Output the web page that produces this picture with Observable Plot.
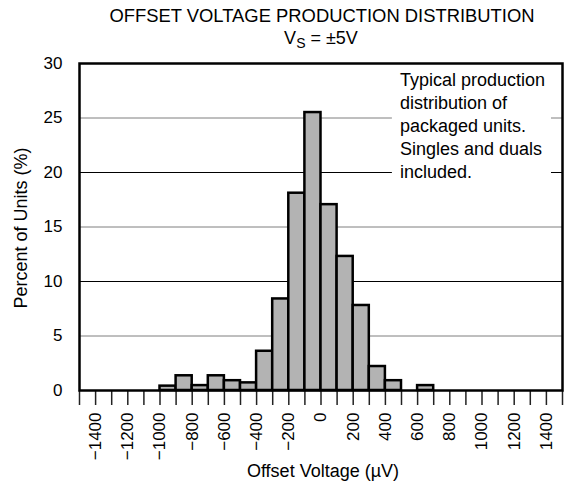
<!DOCTYPE html>
<html>
<head>
<meta charset="utf-8">
<script src="https://cdn.jsdelivr.net/npm/d3@7"></script>
<script src="https://cdn.jsdelivr.net/npm/@observablehq/plot@0.6"></script>
<style>
  body { margin: 0; background: #fff; font-family: "Liberation Sans", Arial, sans-serif; color: #000; }
  #header { position: relative; width: 569px; height: 55px; }
  #title { position: absolute; left: 322px; top: 7px; transform: translateX(-50%); white-space: nowrap; font-size: 18.4px; line-height: 18px; }
  #subtitle { position: absolute; left: 321px; top: 29px; transform: translateX(-50%); white-space: nowrap; font-size: 18px; line-height: 18px; }
  #subtitle .sub { font-size: 14px; position: relative; top: 4px; }
  svg { display: block; }
</style>
</head>
<body>
<div id="header">
  <div id="title">OFFSET VOLTAGE PRODUCTION DISTRIBUTION</div>
  <div id="subtitle">V<span class="sub">S</span> = ±5V</div>
</div>
<script>
// Histogram bins (left edge, µV) and percent of units in each 100 µV bin
const binStart = [-1000, -900, -800, -700, -600, -500, -400, -300, -200, -100, 0, 100, 200, 300, 400, 600];
const percent  = [0.4, 1.35, 0.45, 1.35, 0.9, 0.7, 3.6, 8.4, 18.1, 25.5, 17.05, 12.3, 7.8, 2.2, 0.9, 0.45];
const binWidth = 100;

const xTickMarks = [-1500, -1400, -1300, -1200, -1100, -1000, -900, -800, -700, -600, -500, -400, -300, -200, -100,
                    0, 100, 200, 300, 400, 500, 600, 700, 800, 900, 1000, 1100, 1200, 1300, 1400, 1500];
const xTickLabels = [-1400, -1200, -1000, -800, -600, -400, -200, 0, 200, 400, 600, 800, 1000, 1200, 1400];
const yTicks = [0, 5, 10, 15, 20, 25, 30];
const gridValues = [5, 10, 15, 20, 25];

const xLabel = "Offset Voltage (µV)";
const yLabel = "Percent of Units (%)";
const noteText = "Typical production\ndistribution of\npackaged units.\nSingles and duals\nincluded.";
const noteX = 490;
const noteY = 29.45;

const bars = binStart.map((x, i) => ({x1: x, x2: x + binWidth, y: percent[i]}));
const fmt = d => (d < 0 ? "\u2212" + (-d) : String(d));

let noteG = null;

const chart = Plot.plot({
  width: 569,
  height: 429,
  marginTop: 8,
  marginBottom: 94,
  marginLeft: 79,
  marginRight: 7,
  style: {fontFamily: "'Liberation Sans', Arial, sans-serif", fontSize: "17px", background: "white", color: "black"},
  x: {domain: [-1500, 1500]},
  y: {domain: [0, 30]},
  marks: [
    Plot.ruleY(gridValues, {y: d => d, stroke: d => (d % 10 === 0 ? "#000000" : "#7f7f7f"), strokeWidth: 1}),
    Plot.text([noteText], {
      x: () => noteX, y: () => noteY, text: d => d,
      textAnchor: "start", lineAnchor: "top", lineHeight: 1.28, fontSize: 18, fill: "black",
      render(index, scales, values, dimensions, context, next) {
        const g = next(index, scales, values, dimensions, context);
        noteG = g;
        return g;
      }
    }),
    Plot.rectY(bars, {x1: "x1", x2: "x2", y: "y", fill: "#b3b3b3", stroke: "black", strokeWidth: 2.5}),
    Plot.axisX({ticks: xTickMarks, tickSize: 15, tickFormat: () => "", label: null, strokeWidth: 1.5, stroke: "#222"}),
    Plot.axisX({ticks: xTickLabels, tickSize: 0, tickPadding: 22, tickRotate: -90, tickFormat: fmt, label: null, fontSize: 17}),
    Plot.axisY({ticks: yTicks, tickSize: 0, tickPadding: 17, label: null, fontSize: 17, tickFormat: d => String(d)}),
    Plot.frame({stroke: "black", strokeWidth: 2.5}),
    Plot.text([xLabel], {text: d => d, frameAnchor: "bottom", dy: 86, dx: 2, fontSize: 18, fill: "black"}),
    Plot.text([yLabel], {text: d => d, frameAnchor: "left", textAnchor: "middle", rotate: -90, dx: -58, dy: 1, fontSize: 18, fill: "black"})
  ]
});

document.body.append(chart);

if (noteG) {
  const b = noteG.getBBox();
  const r = document.createElementNS("http://www.w3.org/2000/svg", "rect");
  r.setAttribute("x", b.x - 8);
  r.setAttribute("y", b.y - 2);
  r.setAttribute("width", b.width + 14);
  r.setAttribute("height", b.height + 4);
  r.setAttribute("fill", "white");
  r.setAttribute("stroke", "none");
  noteG.insertBefore(r, noteG.firstChild);
}
</script>
</body>
</html>
